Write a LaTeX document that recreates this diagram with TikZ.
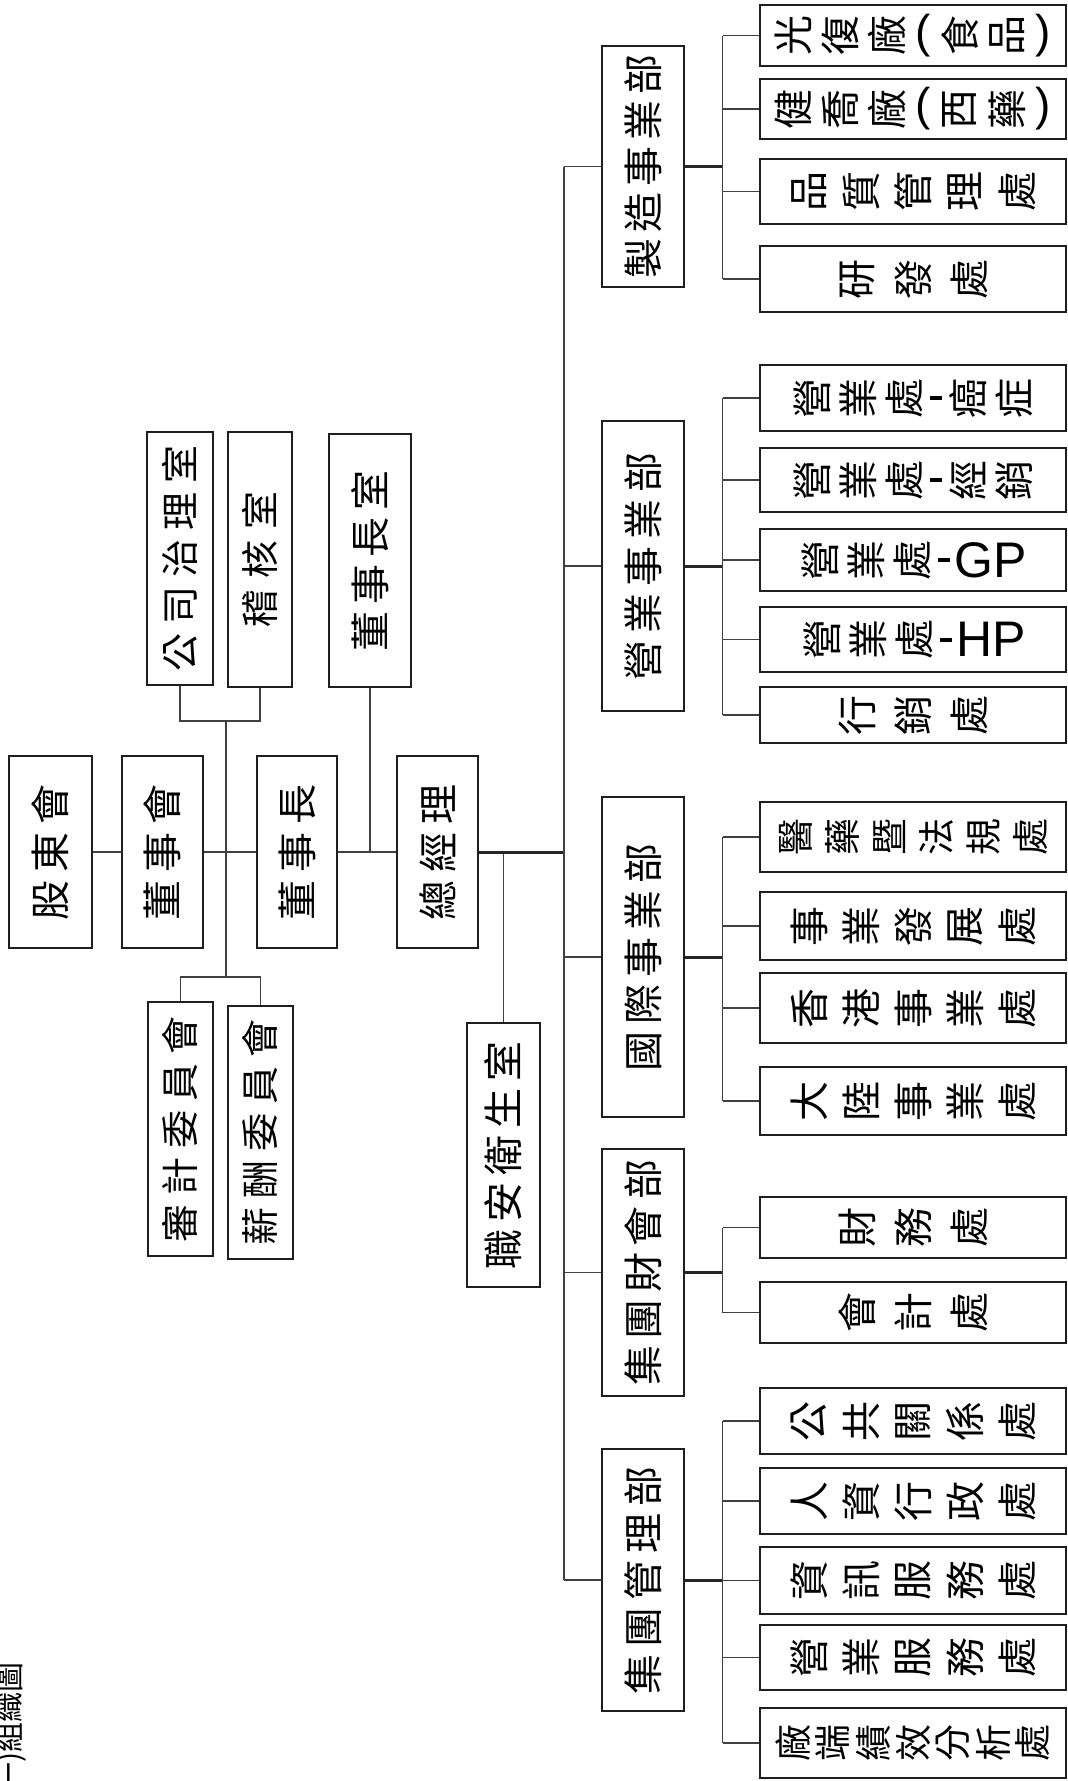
\documentclass[tikz,border=0pt]{standalone}
\usepackage{graphicx}
\usepackage{fontspec}
\setmainfont{Noto Sans CJK TC}
\newfontfamily\latinf{Liberation Sans}
\newlength\pitch
\newcommand\vc[1]{\ensuremath{\vcenter{\hbox{#1}}}}
\newcommand\sg[1]{\makebox[\pitch][c]{#1}}
\newcommand\rg[1]{\makebox[\pitch][c]{\vc{\rotatebox{90}{#1}}}}
\newcommand\tallt[2]{\rotatebox{90}{\setlength\pitch{#1}#2}}
\newcommand\widet[2]{\setlength\pitch{#1}#2}
\newcommand\dsh{\makebox[18pt][c]{\vc{\rule{12pt}{4pt}}}}
\newcommand\lat[3]{\makebox[#1][c]{\vc{\latinf\fontsize{#2}{#2}\selectfont #3}}}
\tikzset{
  boxbase/.style={draw=black!88, line width=1.6pt, inner sep=0pt, fill=white},
  tbox/.style={boxbase, font=\fontsize{40pt}{46pt}\selectfont},
  dbox/.style={boxbase, minimum width=82pt, font=\fontsize{40pt}{46pt}\selectfont},
  wbox/.style={boxbase, minimum width=306pt, font=\fontsize{40pt}{46pt}\selectfont},
  conn/.style={draw=black!75, line width=1.5pt},
  thickconn/.style={draw=black!85, line width=3pt}
}
\begin{document}
\begin{tikzpicture}[x=1pt,y=-1pt]
\useasboundingbox (0,0) rectangle (1068,1781);
\fill[white] (0,0) rectangle (1068,1781);
\clip (0,0) rectangle (1068,1781);

% ---- left chain
\node[tbox, minimum width=83pt, minimum height=192pt] (gd) at (50.5,852) {\tallt{48pt}{\sg{股}\sg{東}\sg{會}}};
\node[tbox, minimum width=81pt, minimum height=192pt] (dshh) at (162.5,852) {\tallt{48pt}{\sg{董}\sg{事}\sg{會}}};
\node[tbox, minimum width=80pt, minimum height=192pt] (dsz) at (297,852) {\tallt{48pt}{\sg{董}\sg{事}\sg{長}}};
\node[tbox, minimum width=81pt, minimum height=192pt] (zjl) at (437.5,852) {\tallt{48pt}{\sg{總}\sg{經}\sg{理}}};
\node[tbox, minimum width=66pt, minimum height=253pt, font=\fontsize{38pt}{44pt}\selectfont] (gszl) at (180,558.5) {\tallt{47pt}{\sg{公}\sg{司}\sg{治}\sg{理}\sg{室}}};
\node[tbox, minimum width=64pt, minimum height=255pt, font=\fontsize{38pt}{44pt}\selectfont] (jh) at (260,559.5) {\tallt{49pt}{\sg{稽}\sg{核}\sg{室}}};
\node[tbox, minimum width=82pt, minimum height=253pt] (dszs) at (370,560.5) {\tallt{47pt}{\sg{董}\sg{事}\sg{長}\sg{室}}};
\node[tbox, minimum width=65pt, minimum height=254pt, font=\fontsize{38pt}{44pt}\selectfont] (sj) at (180.5,1129) {\tallt{47pt}{\sg{審}\sg{計}\sg{委}\sg{員}\sg{會}}};
\node[tbox, minimum width=65pt, minimum height=253pt, font=\fontsize{38pt}{44pt}\selectfont] (xc) at (260.5,1132.5) {\tallt{47pt}{\sg{薪}\sg{酬}\sg{委}\sg{員}\sg{會}}};
\node[tbox, minimum width=73pt, minimum height=264pt] (zaw) at (503.5,1155) {\tallt{47pt}{\sg{職}\sg{安}\sg{衛}\sg{生}\sg{室}}};

% ---- departments
\node[dbox, minimum height=241pt] (zz) at (643,166.5) {\tallt{46pt}{\sg{製}\sg{造}\sg{事}\sg{業}\sg{部}}};
\node[dbox, minimum height=290pt] (yy) at (643,566) {\tallt{47pt}{\sg{營}\sg{業}\sg{事}\sg{業}\sg{部}}};
\node[dbox, minimum height=320pt] (gj) at (643,957) {\tallt{47pt}{\sg{國}\sg{際}\sg{事}\sg{業}\sg{部}}};
\node[dbox, minimum height=247pt] (cw) at (643,1272.5) {\tallt{46.5pt}{\sg{集}\sg{團}\sg{財}\sg{會}\sg{部}}};
\node[dbox, minimum height=262pt] (gl) at (643,1580) {\tallt{47pt}{\sg{集}\sg{團}\sg{管}\sg{理}\sg{部}}};

% ---- units
\node[wbox, minimum height=61pt] (s11) at (913,35.5) {\widet{47pt}{\rg{光}\rg{復}\rg{廠}\lat{26pt}{46pt}{(}\rg{食}\rg{品}\lat{26pt}{46pt}{)}}};
\node[wbox, minimum height=60pt] (s12) at (913,109) {\widet{47pt}{\rg{健}\rg{喬}\rg{廠}\lat{26pt}{46pt}{(}\rg{西}\rg{藥}\lat{26pt}{46pt}{)}}};
\node[wbox, minimum height=65pt] (s13) at (913,191.5) {\widet{52pt}{\rg{品}\rg{質}\rg{管}\rg{理}\rg{處}}};
\node[wbox, minimum height=66pt] (s14) at (913,279) {\widet{56pt}{\rg{研}\rg{發}\rg{處}}};

\node[wbox, minimum height=66pt] (s21) at (913,398) {\widet{46pt}{\rg{營}\rg{業}\rg{處}\dsh\rg{癌}\rg{症}}};
\node[wbox, minimum height=64pt] (s22) at (913,480) {\widet{46pt}{\rg{營}\rg{業}\rg{處}\dsh\rg{經}\rg{銷}}};
\node[wbox, minimum height=62pt] (s23) at (913,560) {\widet{46pt}{\rg{營}\rg{業}\rg{處}\dsh\lat{76pt}{50pt}{GP}}};
\node[wbox, minimum height=65pt] (s24) at (913,639.5) {\widet{46pt}{\rg{營}\rg{業}\rg{處}\dsh\lat{72pt}{50pt}{HP}}};
\node[wbox, minimum height=56pt] (s25) at (913,715) {\widet{56pt}{\rg{行}\rg{銷}\rg{處}}};

\node[wbox, minimum height=70pt, font=\fontsize{37pt}{44pt}\selectfont] (s31) at (913,837) {\widet{47pt}{\rg{醫}\rg{藥}\rg{暨}\rg{法}\rg{規}\rg{處}}};
\node[wbox, minimum height=68pt] (s32) at (913,926) {\widet{52pt}{\rg{事}\rg{業}\rg{發}\rg{展}\rg{處}}};
\node[wbox, minimum height=70pt] (s33) at (913,1008) {\widet{52pt}{\rg{香}\rg{港}\rg{事}\rg{業}\rg{處}}};
\node[wbox, minimum height=68pt] (s34) at (913,1101) {\widet{52pt}{\rg{大}\rg{陸}\rg{事}\rg{業}\rg{處}}};

\node[wbox, minimum height=61pt] (s41) at (913,1227.5) {\widet{56pt}{\rg{財}\rg{務}\rg{處}}};
\node[wbox, minimum height=61pt] (s42) at (913,1312.5) {\widet{56pt}{\rg{會}\rg{計}\rg{處}}};

\node[wbox, minimum height=66pt] (s51) at (913,1421) {\widet{52pt}{\rg{公}\rg{共}\rg{關}\rg{係}\rg{處}}};
\node[wbox, minimum height=66pt] (s52) at (913,1501) {\widet{52pt}{\rg{人}\rg{資}\rg{行}\rg{政}\rg{處}}};
\node[wbox, minimum height=67pt] (s53) at (913,1580.5) {\widet{52pt}{\rg{資}\rg{訊}\rg{服}\rg{務}\rg{處}}};
\node[wbox, minimum height=65pt] (s54) at (913,1657.5) {\widet{52pt}{\rg{營}\rg{業}\rg{服}\rg{務}\rg{處}}};
\node[wbox, minimum height=70pt, font=\fontsize{37pt}{44pt}\selectfont] (s55) at (913,1743) {\widet{40pt}{\rg{廠}\rg{端}\rg{績}\rg{效}\rg{分}\rg{析}\rg{處}}};

% ---- title
\node[rotate=90, anchor=east, inner sep=0pt, font=\fontsize{30pt}{33pt}\selectfont] (title) at (11,1662) {(一)組織圖};

% ---- helper coordinates
\coordinate (v1) at (226,721);
\coordinate (v2) at (226,977);
\coordinate (tr) at (564,0);
\coordinate (br) at (722.5,0);

% ---- connectors left
\draw[conn] (gd.east) -- (dshh.west);
\draw[conn] (dshh.east) -- (dsz.west);
\draw[conn] (dsz.east) -- (zjl.west);
\draw[conn] (gszl.south) |- (v1) -| (jh.south);
\draw[conn] (v1) -- (v2);
\draw[conn] (sj.north) |- (v2) -| (xc.north);
\draw[conn] (dszs.south) -- (dszs.south |- dsz.east);
\draw[conn] (zaw.north) -- (zaw.north |- zjl.east);
\draw[thickconn] (zjl.east) -- (zjl.east -| tr);
\draw[conn] (tr |- zz.west) -- (tr |- gl.west);
\foreach \d in {zz,yy,gj,cw,gl} \draw[conn] (tr |- \d.west) -- (\d.west);

% ---- connectors right
\draw[thickconn] (zz.east) -- (br |- zz.east);
\draw[conn] (br |- s11.west) -- (br |- s14.west);
\foreach \s in {s11,s12,s13,s14} \draw[conn] (br |- \s.west) -- (\s.west);

\draw[thickconn] (yy.east) -- (br |- yy.east);
\draw[conn] (br |- s21.west) -- (br |- s25.west);
\foreach \s in {s21,s22,s23,s24,s25} \draw[conn] (br |- \s.west) -- (\s.west);

\draw[thickconn] (gj.east) -- (br |- gj.east);
\draw[conn] (br |- s31.west) -- (br |- s34.west);
\foreach \s in {s31,s32,s33,s34} \draw[conn] (br |- \s.west) -- (\s.west);

\draw[thickconn] (cw.east) -- (br |- cw.east);
\draw[conn] (br |- s41.west) -- (br |- s42.west);
\foreach \s in {s41,s42} \draw[conn] (br |- \s.west) -- (\s.west);

\draw[thickconn] (gl.east) -- (br |- gl.east);
\draw[conn] (br |- s51.west) -- (br |- s55.west);
\foreach \s in {s51,s52,s53,s54,s55} \draw[conn] (br |- \s.west) -- (\s.west);
\end{tikzpicture}
\end{document}
